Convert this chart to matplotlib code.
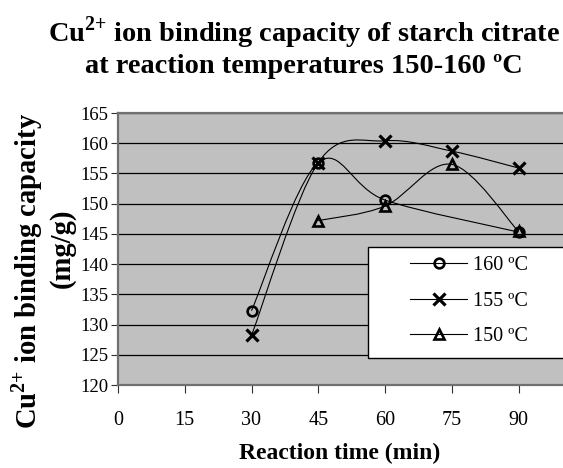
import numpy as np
import matplotlib.pyplot as plt
from matplotlib.path import Path
from matplotlib.patches import PathPatch, Rectangle
from matplotlib.lines import Line2D

plt.rcParams['font.family'] = ['Liberation Serif', 'DejaVu Serif']
plt.rcParams['mathtext.fontset'] = 'custom'
plt.rcParams['mathtext.rm'] = 'Liberation Serif'
plt.rcParams['mathtext.bf'] = 'Liberation Serif:bold'

# --- data ---
time_160 = [30, 45, 60, 90]
cap_160 = [132.3, 156.8, 150.6, 145.3]

time_155 = [30, 45, 60, 75, 90]
cap_155 = [128.2, 156.8, 160.4, 158.7, 155.9]

time_150 = [45, 60, 75, 90]
cap_150 = [147.2, 149.6, 156.5, 145.4]

series = [
    (time_160, cap_160, 'o', '160 ºC'),
    (time_155, cap_155, 'x', '155 ºC'),
    (time_150, cap_150, '^', '150 ºC'),
]

CU = 'Cu$^{\\mathbf{2{+}}}$'


def smooth_path(x, y):
    """Excel-style smoothed line: cubic Bezier through points (Catmull-Rom)"""
    pts = np.column_stack([x, y]).astype(float)
    verts = [pts[0]]
    codes = [Path.MOVETO]
    n = len(pts)
    for i in range(n - 1):
        p0 = pts[i - 1] if i > 0 else pts[i]
        p1 = pts[i]
        p2 = pts[i + 1]
        p3 = pts[i + 2] if i + 2 < n else pts[i + 1]
        c1 = p1 + (p2 - p0) / 6.0
        c2 = p2 - (p3 - p1) / 6.0
        verts += [c1, c2, p2]
        codes += [Path.CURVE4] * 3
    return Path(verts, codes)


def marker_style(m):
    if m == 'x':
        return dict(marker='x', markersize=8, markeredgewidth=2.3,
                    color='black')
    return dict(marker=m, markersize=7, markeredgewidth=1.9,
                markerfacecolor='none', markeredgecolor='black', color='black')


W, H = 563, 468
fig = plt.figure(figsize=(W / 100, H / 100), dpi=100)
ax = fig.add_axes([118 / W, 1 - 385 / H, 1 - 118 / W, (385 - 113) / H])
ax.set_facecolor('#c0c0c0')

for x, y, m, lab in series:
    ax.add_patch(PathPatch(smooth_path(x, y), facecolor='none',
                           edgecolor='black', linewidth=0.8, zorder=3))
    ax.plot(x, y, linestyle='none', zorder=4, **marker_style(m))

ax.set_xlim(0, 100)
ax.set_ylim(120, 165)
ax.set_xticks([0, 15, 30, 45, 60, 75, 90])
ax.set_yticks(np.arange(120, 166, 5))
ax.yaxis.grid(True, color='black', linewidth=0.9)
ax.set_axisbelow(True)
ax.tick_params(axis='y', labelsize=13.5, length=5, direction='out',
               color='#303030', pad=2)
ax.tick_params(axis='x', labelsize=14.5, length=6, direction='out',
               color='#303030', pad=13)

for side in ['left', 'bottom', 'top']:
    ax.spines[side].set_color('#707070')
    ax.spines[side].set_linewidth(1.6)
ax.spines['right'].set_visible(False)

fig.text(340 / W, 1 - 453 / H, 'Reaction time (min)', ha='center',
         va='center', fontsize=17, fontweight='bold')

# y label, two lines placed separately
fig.text(27 / W, 1 - 271 / H, CU + ' ion binding capacity',
         rotation=90, ha='center', va='center', fontsize=20.6, fontweight='bold')
fig.text(62 / W, 1 - 248 / H, '(mg/g)', rotation=90, ha='center',
         va='center', fontsize=20.6, fontweight='bold')

# title
fig.text(304 / W, 1 - 42 / H, CU + ' ion binding capacity of starch citrate',
         ha='center', va='baseline', fontsize=20.4, fontweight='bold')
fig.text(304 / W, 1 - 73 / H, 'at reaction temperatures 150-160 ºC',
         ha='center', va='baseline', fontsize=20.4, fontweight='bold')

# legend box
fig.add_artist(Rectangle((368 / W, 1 - 358 / H), 1, (358 - 247) / H,
                         transform=fig.transFigure, facecolor='white',
                         edgecolor='black', linewidth=1.0, zorder=2))

handles = [Line2D([], [], linewidth=0.8, **marker_style(m))
           for x, y, m, lab in series]
leg = fig.legend(handles, [s[3] for s in series], loc='upper left',
                 bbox_to_anchor=(410 / W, 1 - 256 / H), fontsize=14.5,
                 frameon=False, handlelength=2.85, handletextpad=0.3,
                 labelspacing=0.82, borderpad=0, borderaxespad=0)
leg.set_zorder(5)

fig.savefig('out.png', dpi=100, facecolor='white')
